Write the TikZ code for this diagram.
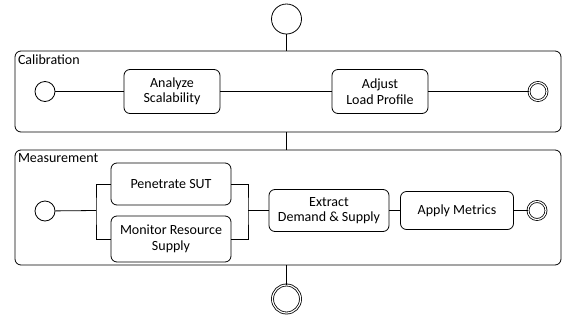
\documentclass[tikz,border=0pt]{standalone}
\usepackage{fontspec}
\setmainfont{Carlito}
\usetikzlibrary{positioning}

\begin{document}
\begin{tikzpicture}[x=1pt, y=-1pt, line width=0.8pt, font=\fontsize{14}{15.5}\selectfont,
    action/.style = {draw, rounded corners=6pt, align=center, minimum height=44pt, inner sep=2pt},
    group/.style = {draw, rounded corners=6pt, minimum width=546pt},
    initial/.style = {draw, circle, minimum size=20pt, inner sep=0pt},
    final/.style = {draw, circle, double, double distance=1.2pt, minimum size=18pt, inner sep=0pt},
    label/.style = {anchor=north west, inner sep=1pt}]
\useasboundingbox (0,0) rectangle (566,322);
\node[initial, minimum size=30pt] (start) at (286.5,19) {};
% Calibration
\node[group, minimum height=81pt] (calib) at (288,91.5) {};
\node[label] (calibtext) at (calib.north west) [xshift=2pt, yshift=-3pt] {Calibration};
\node[initial] (cinit) at (45,91.5) {};
\node[action, minimum width=96pt] (analyze) at (172,91.5) {Analyze\\Scalability};
\node[action, minimum width=96pt] (adjust) at (380,91.5) {Adjust\\Load Profile};
\node[final] (cfinal) at (538,91.5) {};
\draw (cinit) -- (analyze);
\draw (analyze) -- (adjust);
\draw (adjust) -- (cfinal);
% Measurement
\node[group, minimum height=115pt] (measure) at (288,207.5) {};
\node[label] (measuretext) at (measure.north west) [xshift=2pt, yshift=-3pt] {Measurement};
\node[initial] (minit) at (45,211) {};
\node[action, minimum width=120pt, minimum height=42pt] (penetrate) at (171,184) {Penetrate SUT};
\node[action, minimum width=120pt, minimum height=46pt] (monitor) at (171,239) {Monitor Resource\\Supply};
\node[action, minimum width=120pt, minimum height=42pt] (extract) at (329,210.5) {Extract\\Demand \& Supply};
\node[action, minimum width=113pt, minimum height=38pt] (apply) at (457,210.5) {Apply Metrics};
\node[final] (mfinal) at (537,210.5) {};
\coordinate (fork) at (96,210.5);
\coordinate (join) at (248,210.5);
\draw (minit) -- (fork);
\draw (penetrate.west) -| (fork) |- (monitor.west);
\draw (penetrate.east) -| (join) |- (monitor.east);
\draw (join) -- (extract);
\draw (extract) -- (apply);
\draw (apply) -- (mfinal);
\node[final, minimum size=28pt] (end) at (286.5,299) {};
\draw (start) -- (start |- calib.north);
\draw (start |- calib.south) -- (start |- measure.north);
\draw (start |- measure.south) -- (end);
\end{tikzpicture}
\end{document}
